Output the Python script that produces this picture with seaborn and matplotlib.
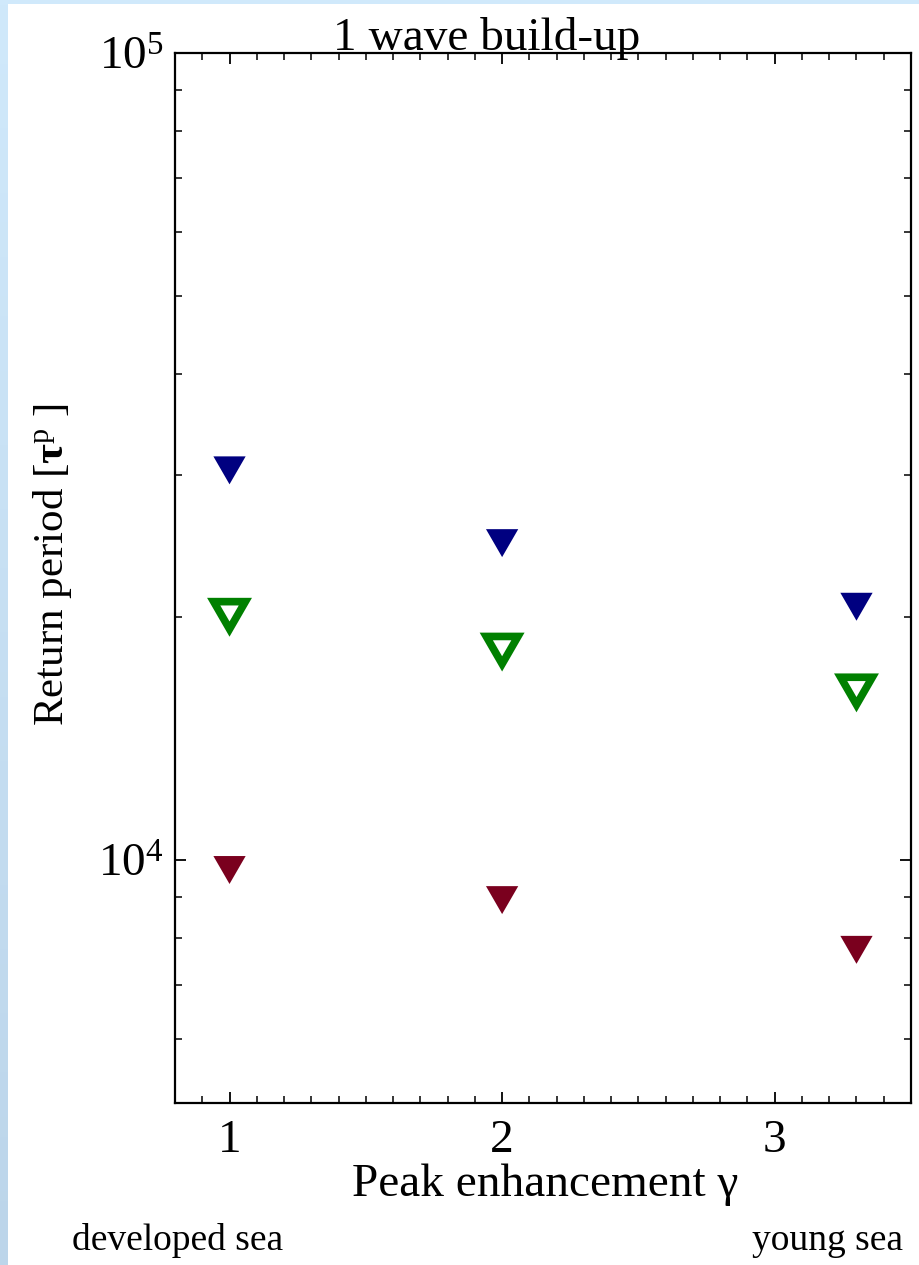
import numpy as np
import pandas as pd
import matplotlib
matplotlib.use("Agg")
import matplotlib.pyplot as plt
from matplotlib.path import Path
from matplotlib.markers import MarkerStyle
from matplotlib.ticker import LogLocator, MultipleLocator, FixedLocator, NullFormatter, LogFormatterMathtext
import seaborn as sns

# Peak enhancement factor of the JONSWAP spectrum
gamma = [1.0, 2.0, 3.3]

# Return periods (in peak periods) for each criterion
blue_vals = [30400, 24700, 20600]
green_vals = [20100, 18200, 16200]
red_vals = [9720, 8920, 7740]

title_text = "1 wave build-up"
xlabel_text = "Peak enhancement γ"
ylabel_text = r"Return period [$\mathbf{\tau}^{\mathrm{p}}$ ]"
left_note = "developed sea"
right_note = "young sea"

sns.set_theme(style="white")
plt.rcParams["font.family"] = ["Liberation Serif", "DejaVu Serif"]
plt.rcParams["mathtext.fontset"] = "custom"
plt.rcParams["mathtext.rm"] = "Liberation Serif"
plt.rcParams["mathtext.it"] = "Liberation Serif:italic"
plt.rcParams["mathtext.bf"] = "Liberation Serif:bold"
plt.rcParams["text.color"] = "black"
plt.rcParams["axes.labelcolor"] = "black"
plt.rcParams["xtick.color"] = "black"
plt.rcParams["ytick.color"] = "black"

W, H = 920, 1265
fig = plt.figure(figsize=(W / 100, H / 100), dpi=100)
fig.patch.set_facecolor("white")

# light blue frame strips (left gradient, top band)
left_strip = fig.add_axes([0, 0, 8 / W, 1])
grad = np.linspace(0, 1, 256).reshape(-1, 1)
c_top = np.array([208, 233, 251]) / 255
c_bot = np.array([188, 213, 234]) / 255
img = c_top[None, None, :] * (1 - grad[..., None]) + c_bot[None, None, :] * grad[..., None]
left_strip.imshow(img, aspect="auto", extent=[0, 1, 0, 1])
left_strip.set_axis_off()
top_strip = fig.add_axes([0, 1 - 4 / H, 1, 4 / H])
top_strip.set_facecolor(c_top)
top_strip.set_xticks([]); top_strip.set_yticks([])
for s in top_strip.spines.values():
    s.set_visible(False)

ax = fig.add_axes([175 / W, 1 - 1103 / H, (911 - 175) / W, (1103 - 53) / H])
ax.set_facecolor("white")

# equilateral down-pointing triangle, centred on its bounding box
tri_path = Path([(-1.0, 0.866), (1.0, 0.866), (0.0, -0.866), (-1.0, 0.866)], closed=True)
tri = MarkerStyle(tri_path, joinstyle="miter")

df = pd.DataFrame({"gamma": gamma, "blue": blue_vals, "green": green_vals, "red": red_vals})

sns.scatterplot(data=df, x="gamma", y="blue", ax=ax, marker=tri, s=540,
                color="#000080", edgecolor="none", linewidth=0, zorder=3)
sns.scatterplot(data=df, x="gamma", y="red", ax=ax, marker=tri, s=540,
                color="#7a001e", edgecolor="none", linewidth=0, zorder=3)
sns.scatterplot(data=df, x="gamma", y="green", ax=ax, marker=tri, s=520,
                facecolor="none", edgecolor="#008000", linewidth=5.5,
                joinstyle="miter", zorder=3)

ax.set_yscale("log")
ax.set_xlim(0.8, 3.5)
ax.set_ylim(5000, 1e5)
ax.set_xlabel("")
ax.set_ylabel("")

ax.xaxis.set_major_locator(FixedLocator([1, 2, 3]))
ax.xaxis.set_minor_locator(MultipleLocator(0.1))
ax.yaxis.set_major_locator(LogLocator(base=10, numticks=10))
ax.yaxis.set_minor_locator(LogLocator(base=10, subs=np.arange(2, 10), numticks=20))
ax.yaxis.set_major_formatter(LogFormatterMathtext())
ax.yaxis.set_minor_formatter(NullFormatter())

for s in ax.spines.values():
    s.set_visible(True)
    s.set_color("black")
    s.set_linewidth(1.6)

ax.tick_params(which="both", direction="in", top=True, right=True, bottom=True, left=True,
               color="black", labelsize=34, labelcolor="black")
ax.tick_params(which="major", length=8, width=1.3)
ax.tick_params(which="minor", length=5, width=1.1)
ax.tick_params(axis="x", which="major", pad=12)
ax.tick_params(axis="y", which="major", pad=8)

fig.text(487 / W, 1 - 50 / H, title_text, ha="center", va="baseline", fontsize=34)
fig.text(545 / W, 1 - 1196 / H, xlabel_text, ha="center", va="baseline", fontsize=34)
fig.text(53 / W, 1 - 565 / H, ylabel_text, ha="center", va="center", rotation=90, fontsize=31)
fig.text(72 / W, 1 - 1250 / H, left_note, ha="left", va="baseline", fontsize=27)
fig.text(903 / W, 1 - 1250 / H, right_note, ha="right", va="baseline", fontsize=27)

fig.savefig("out.png", dpi=100, facecolor="white")
